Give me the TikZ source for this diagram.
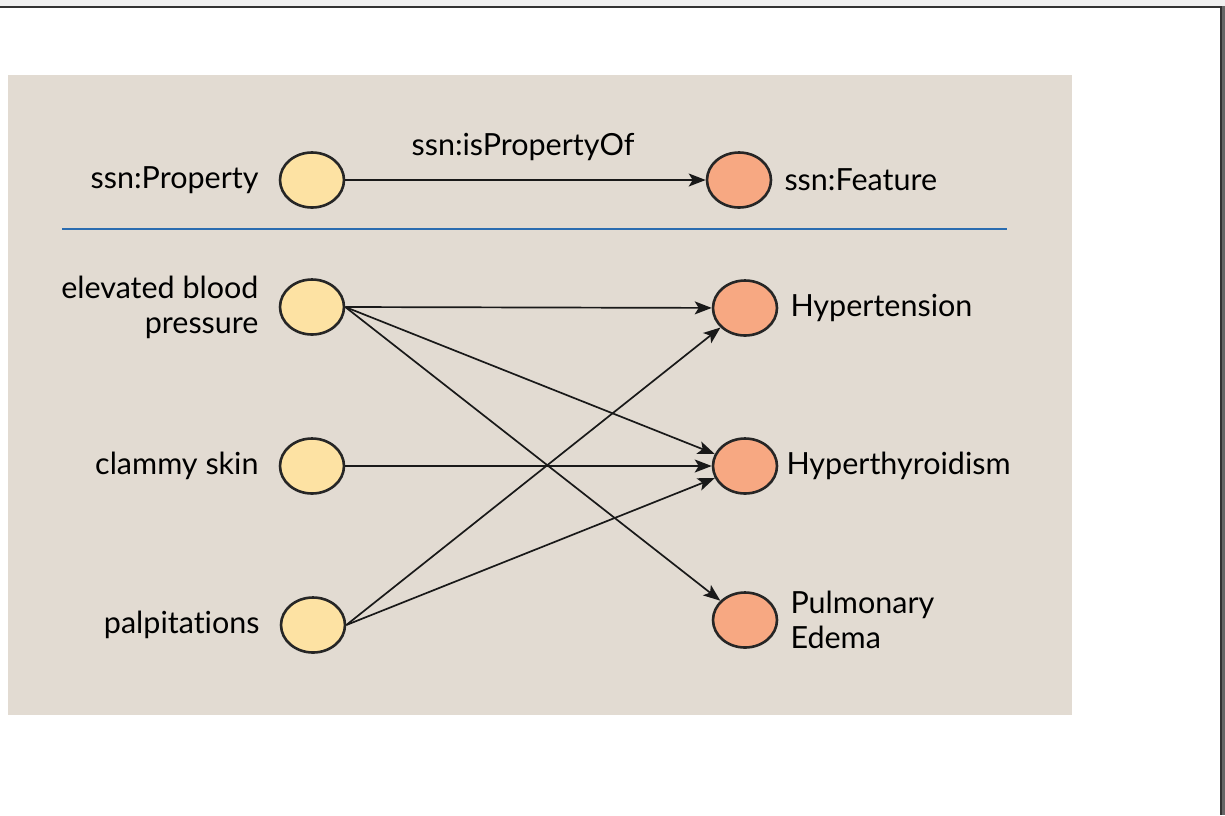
\documentclass[tikz,border=0pt]{standalone}
\usepackage{fontspec}
\setmainfont{Lato}[Ligatures=NoCommon]
\usepackage{xcolor}
\usetikzlibrary{arrows.meta,positioning,shapes.geometric}
\definecolor{panelgray}{HTML}{E2DBD2}
\definecolor{propyellow}{HTML}{FDE2A3}
\definecolor{featorange}{HTML}{F7A882}
\definecolor{ruleblue}{HTML}{2A6CB0}
\tikzset{
  ellipse node/.style={draw=black!85,line width=2.6pt,shape=ellipse,minimum width=64pt,minimum height=55pt,inner sep=0pt},
  propnode/.style={ellipse node,fill=propyellow},
  featnode/.style={ellipse node,fill=featorange},
  txt/.style={font=\fontsize{30.5}{35}\selectfont,inner sep=0pt},
  link/.style={->,line width=1.7pt,draw=black!90}
}
\begin{document}
\begin{tikzpicture}[>={Stealth[length=17pt,width=13pt,inset=4pt]},x=1pt,y=-1pt]
\useasboundingbox (0,0) rectangle (1225,815);
\fill[white] (0,0) rectangle (1225,815);
% frame
\fill[black!6] (0,0) rectangle (1225,6);
\fill[black!60] (1222,6) rectangle (1225,815);
\draw[black!80,line width=1.5pt] (0,7) -- (1221,7) -- (1221,815);
% panel
\fill[panelgray] (8,75) rectangle (1072,715);

% classes
\node[propnode] (prop) at (312,180) {};
\node[featnode] (feat) at (739,180) {};
\draw[link] (prop.east) -- (feat);
\node[txt] at (523,147) {ssn:isPropertyOf};
\node[txt,left=20pt of prop] {ssn:Property};
\node[txt,right=12pt of feat] {ssn:Feature};
\draw[ruleblue,line width=1.8pt] (62,229) -- (1007,229);

% instances
\node[propnode] (ebp) at (312,307) {};
\node[propnode] (skin) at (312,466) {};
\node[propnode] (palp) at (313,625) {};
\node[featnode] (hten) at (745,308) {};
\node[featnode] (hthy) at (745,466) {};
\node[featnode] (edema) at (745,620) {};

\node[txt,left=20pt of ebp,align=right] {elevated blood\\pressure};
\node[txt,left=20pt of skin] {clammy skin};
\node[txt,left=20pt of palp] {palpitations};
\node[txt,right=12pt of hten] {Hypertension};
\node[txt,right=8pt of hthy] {Hyperthyroidism};
\node[txt,right=12pt of edema,align=left] {Pulmonary\\Edema};

\draw[link] (ebp.east) -- (hten);
\draw[link] (ebp.east) -- (hthy);
\draw[link] (ebp.east) -- (edema);
\draw[link] (skin.east) -- (hthy);
\draw[link] (palp.east) -- (hten);
\draw[link] (palp.east) -- (hthy);
\end{tikzpicture}
\end{document}
